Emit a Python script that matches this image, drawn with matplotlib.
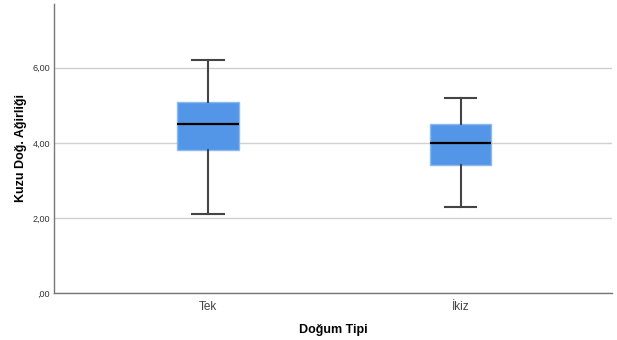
import matplotlib
matplotlib.use("Agg")
import matplotlib.pyplot as plt

plt.rcParams['font.family'] = ['Liberation Sans', 'DejaVu Sans']

groups = ["Tek", "İkiz"]
whislo = [2.1, 2.3]
q1 = [3.8, 3.4]
med = [4.5, 4.0]
q3 = [5.1, 4.5]
whishi = [6.2, 5.2]
yticks = [0, 2, 4, 6]
ytick_labels = [",00", "2,00", "4,00", "6,00"]

stats = []
for i in range(len(groups)):
    stats.append({'label': groups[i], 'whislo': whislo[i], 'q1': q1[i],
                  'med': med[i], 'q3': q3[i], 'whishi': whishi[i], 'fliers': []})

fig = plt.figure(figsize=(6.17, 3.40), dpi=100)
ax = fig.add_axes([54/617, 1-293/340, 558/617, 289/340])

ax.bxp(stats, positions=[1, 2], widths=0.242, patch_artist=True, showfliers=False,
       boxprops=dict(facecolor='#5395e6', edgecolor='#8cb9f0', linewidth=1),
       medianprops=dict(color='black', linewidth=1.6),
       whiskerprops=dict(color='#444444', linewidth=1.5),
       capprops=dict(color='#444444', linewidth=1.5),
       capwidths=0.123, zorder=3)

ax.set_xlim(0.39, 2.6)
ax.set_ylim(0, 7.7)
ax.set_yticks(yticks)
ax.set_yticklabels(ytick_labels)
ax.yaxis.grid(True, color='#d0d0d0', linewidth=1)
ax.set_axisbelow(True)
ax.tick_params(axis='y', length=0, labelsize=6.5, colors='#333333', pad=3)
ax.tick_params(axis='x', length=0, labelsize=8.5, colors='#444444', pad=6)
for s in ['top', 'right']:
    ax.spines[s].set_visible(False)
for s in ['left', 'bottom']:
    ax.spines[s].set_color('#777777')
    ax.spines[s].set_linewidth(1)

ax.set_xlabel("Doğum Tipi", fontsize=9, fontweight='bold', labelpad=8)
ax.set_ylabel("Kuzu Doğ. Ağirliği", fontsize=9, fontweight='bold', labelpad=4)

fig.savefig("out.png", dpi=100)
